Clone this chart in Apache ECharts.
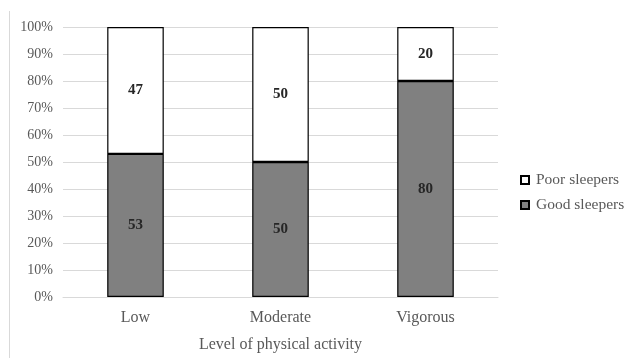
<!DOCTYPE html>
<html><head><meta charset="utf-8">
<script src="https://cdn.jsdelivr.net/npm/echarts@6/dist/echarts.min.js"></script>
<style>html,body{margin:0;padding:0;background:#fff}#c{width:626px;height:358px}</style>
</head><body><div id="c"></div>
<script>
const categories = ['Low', 'Moderate', 'Vigorous'];
const goodSleepers = [53, 50, 80];
const poorSleepers = [47, 50, 20];
const yTicks = [0, 10, 20, 30, 40, 50, 60, 70, 80, 90, 100];

const FONT = '"Liberation Serif", "Times New Roman", serif';
const chart = echarts.init(document.getElementById('c'), null, {renderer: 'canvas'});
chart.setOption({
  animation: false,
  textStyle: {fontFamily: FONT},
  graphic: [{
    type: 'line', shape: {x1: 9.5, y1: 11, x2: 9.5, y2: 358},
    style: {stroke: '#d9d9d9', lineWidth: 1}
  }],
  grid: {left: 63, right: 128, top: 27, bottom: 60, containLabel: false},
  legend: {
    orient: 'vertical', left: 520, top: 172, padding: 0,
    data: ['Poor sleepers', 'Good sleepers'],
    icon: 'rect', itemWidth: 8, itemHeight: 8, itemGap: 9,
    textStyle: {fontFamily: FONT, fontSize: 15.5, color: '#595959', padding: [0, 0, 0, 2]}
  },
  xAxis: {
    type: 'category', data: categories,
    name: 'Level of physical activity', nameLocation: 'middle', nameGap: 40,
    nameTextStyle: {fontFamily: FONT, fontSize: 16, color: '#595959'},
    axisLine: {lineStyle: {color: '#d9d9d9', width: 1}},
    axisTick: {show: false},
    axisLabel: {fontFamily: FONT, fontSize: 16, color: '#595959', margin: 13}
  },
  yAxis: {
    type: 'value', min: 0, max: 100, interval: 10,
    axisLine: {show: false}, axisTick: {show: false},
    splitLine: {lineStyle: {color: '#d9d9d9', width: 1}},
    axisLabel: {fontFamily: FONT, fontSize: 14, color: '#595959', margin: 10,
      formatter: v => yTicks.includes(v) ? v + '%' : ''}
  },
  series: [
    {
      name: 'Good sleepers', type: 'bar', stack: 'all', data: goodSleepers,
      barWidth: '39%',
      itemStyle: {color: '#808080', borderColor: '#000', borderWidth: 1.2},
      label: {show: true, position: 'inside', fontFamily: FONT, fontSize: 15, fontWeight: 'bold', color: '#262626'}
    },
    {
      name: 'Poor sleepers', type: 'bar', stack: 'all', data: poorSleepers,
      barWidth: '39%',
      itemStyle: {color: '#ffffff', borderColor: '#000', borderWidth: 1.2},
      label: {show: true, position: 'inside', fontFamily: FONT, fontSize: 15, fontWeight: 'bold', color: '#262626'}
    }
  ]
});
</script></body></html>
